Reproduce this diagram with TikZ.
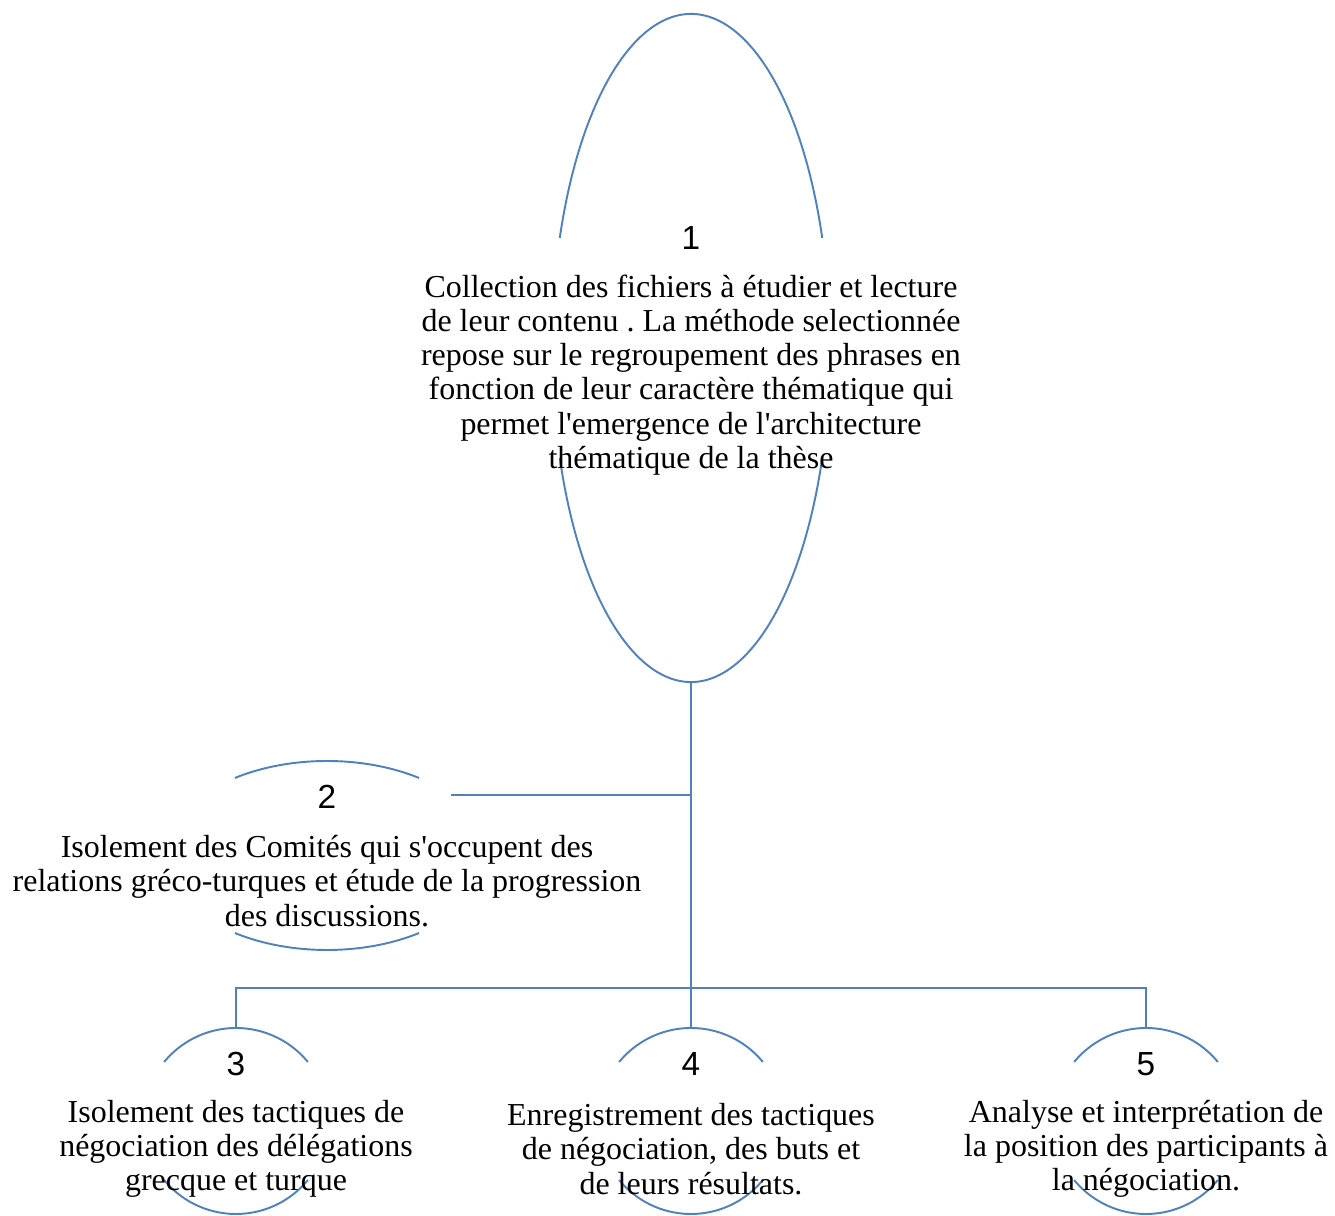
\documentclass[tikz,border=0pt]{standalone}
\usepackage{fontspec}
\setmainfont{Liberation Serif}
\setsansfont{Liberation Sans}
\usepackage{tikz}
\usetikzlibrary{shapes.geometric}
\frenchspacing
\definecolor{linkblue}{RGB}{79,129,189}
\tikzstyle{link}=[linkblue,line width=1.1pt]
\tikzstyle{oval}=[ellipse,draw=none,inner sep=0pt]
\tikzstyle{num}=[font=\sffamily\fontsize{19}{21}\selectfont]
\tikzstyle{txt}=[align=center,inner sep=0pt,font=\fontsize{18.2}{19.5}\selectfont]

\begin{document}
\begin{tikzpicture}[x=0.02cm,y=0.02cm]
    \useasboundingbox (0,0) rectangle (1335,1216);
    % ovals (only the outer arcs show)
    \node[oval,minimum width=5.56cm,minimum height=13.36cm] (e1) at (691,868) {};
    \node[oval,minimum width=6.44cm,minimum height=3.78cm] (e2) at (327,360.5) {};
    \node[oval,minimum width=3.72cm,minimum height=3.72cm] (e3) at (236,95) {};
    \node[oval,minimum width=3.72cm,minimum height=3.72cm] (e4) at (691,95) {};
    \node[oval,minimum width=3.72cm,minimum height=3.72cm] (e5) at (1146,95) {};
    \draw[link] (e1.center) ++(19.23:139 and 334) arc[start angle=19.23,end angle=160.77,x radius=139,y radius=334];
    \draw[link] (e1.center) ++(199.23:139 and 334) arc[start angle=199.23,end angle=340.77,x radius=139,y radius=334];
    \draw[link] (e2.center) ++(55.1:161 and 94.5) arc[start angle=55.1,end angle=124.9,x radius=161,y radius=94.5];
    \draw[link] (e2.center) ++(235.1:161 and 94.5) arc[start angle=235.1,end angle=304.9,x radius=161,y radius=94.5];
    \draw[link] (e3.center) ++(39.4:93) arc[start angle=39.4,end angle=140.6,radius=93];
    \draw[link] (e3.center) ++(219.4:93) arc[start angle=219.4,end angle=320.6,radius=93];
    \draw[link] (e4.center) ++(39.4:93) arc[start angle=39.4,end angle=140.6,radius=93];
    \draw[link] (e4.center) ++(219.4:93) arc[start angle=219.4,end angle=320.6,radius=93];
    \draw[link] (e5.center) ++(39.4:93) arc[start angle=39.4,end angle=140.6,radius=93];
    \draw[link] (e5.center) ++(219.4:93) arc[start angle=219.4,end angle=320.6,radius=93];

    % numbers and texts
    \node[num] (n1) at (691,978) {1};
    \node[txt] (t1) at (691,841) {Collection des fichiers à étudier et lecture\\de leur contenu . La méthode selectionnée\\repose sur le regroupement des phrases en\\fonction de leur caractère thématique qui\\permet l\textquotesingle emergence de l\textquotesingle architecture\\thématique de la thèse};
    \node[num] (n2) at (327,419) {2};
    \node[txt] (t2) at (327,335) {Isolement des Comités qui s\textquotesingle occupent des\\relations gréco-turques et étude de la progression\\des discussions.};
    \node[num] (n3) at (236,152) {3};
    \node[txt] (t3) at (236,67) {Isolement des tactiques de\\négociation des délégations\\grecque et turque};
    \node[num] (n4) at (691,152) {4};
    \node[txt] (t4) at (691,67) {Enregistrement des tactiques\\de négociation, des buts et\\de leurs résultats.};
    \node[num] (n5) at (1146,152) {5};
    \node[txt] (t5) at (1146,67) {Analyse et interprétation de\\la position des participants à\\la négociation.};

    % connectors
    \coordinate (bar) at (691,228);
    \draw[link] (e1.south) -- (e4.north);
    \draw[link] (e2.26) -- (e2.26 -| e1.south);
    \draw[link] (e3.north) |- (bar) -| (e5.north);
\end{tikzpicture}
\end{document}
